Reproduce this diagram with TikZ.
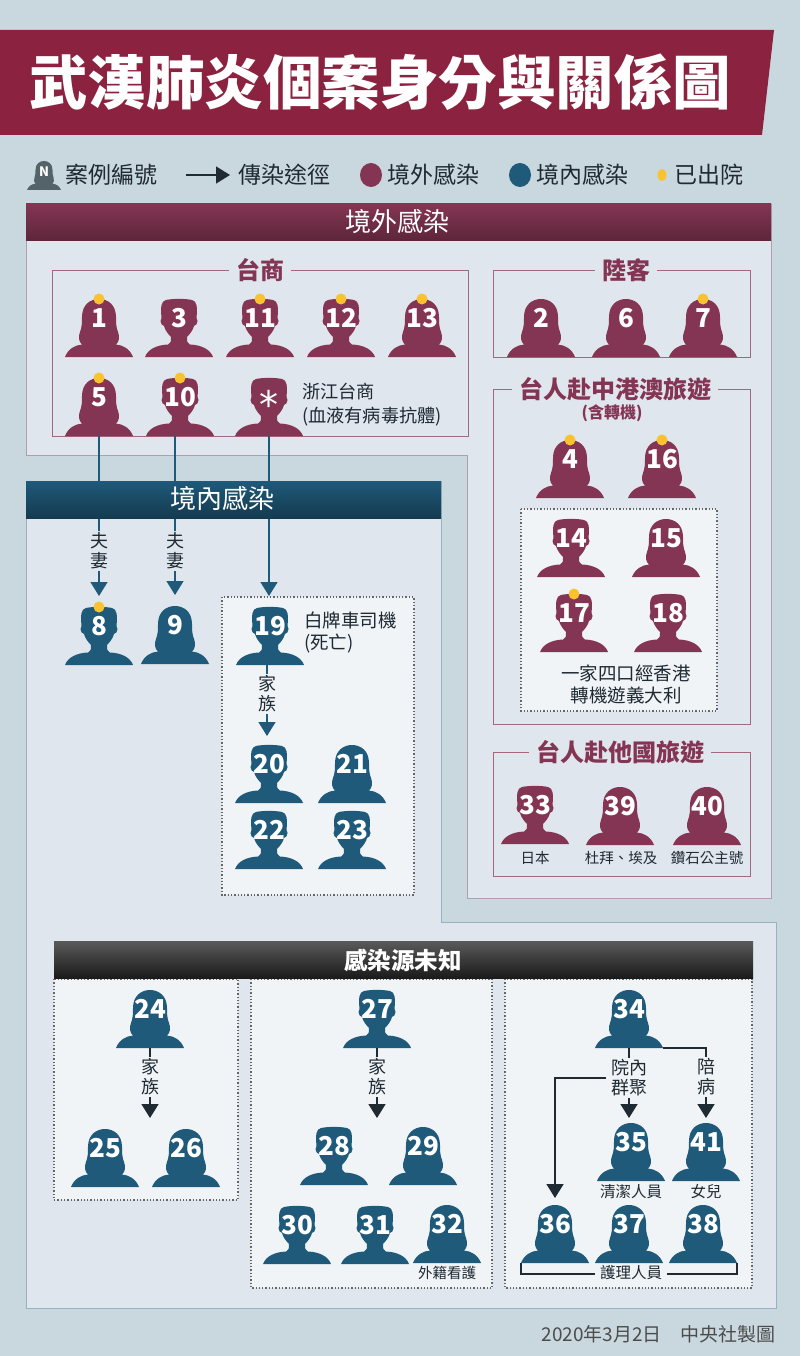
\documentclass[tikz,border=0pt]{standalone}
\usepackage{fontspec}
\setmainfont{Noto Sans CJK TC}
\newfontfamily\starfont{DejaVu Sans}
\usetikzlibrary{arrows.meta,shapes.geometric}
\definecolor{maroon}{HTML}{843553}
\definecolor{navy}{HTML}{1F5A7A}
\definecolor{band}{HTML}{8B2340}
\definecolor{panel}{HTML}{E0E6ED}
\definecolor{page}{HTML}{C9D7DF}
\definecolor{inbox}{HTML}{F0F4F7}
\definecolor{ink}{HTML}{1F2A33}
\definecolor{gold}{HTML}{F9C22E}
\newcommand{\sz}[2]{\fontsize{#1}{#2}\selectfont}
% silhouettes, origin at the middle of the base
\newcommand{\manpath}{(-34,0) .. controls (-31,-8) and (-22,-12) .. (-11,-12.5) .. controls (-8,-13) and (-8,-16) .. (-8,-20)
  .. controls (-11,-23) and (-14,-27) .. (-15,-31) .. controls (-17,-32) and (-18.5,-33) .. (-18.5,-36) .. controls (-18.5,-37) and (-18,-38) .. (-17.5,-39)
  .. controls (-18.5,-50) and (-18,-56) .. (-13,-57) .. controls (-6,-58.5) and (6,-58.5) .. (13,-57)
  .. controls (18,-56) and (18.5,-50) .. (17.5,-39) .. controls (18,-38) and (18.5,-37) .. (18.5,-36) .. controls (18.5,-33) and (17,-32) .. (15,-31)
  .. controls (14,-27) and (11,-23) .. (8,-20) .. controls (8,-16) and (8,-13) .. (11,-12.5)
  .. controls (22,-12) and (31,-8) .. (34,0) -- cycle}
\newcommand{\womanpath}{(-34,0) .. controls (-31,-8) and (-24,-12) .. (-17,-12.5) .. controls (-20,-15) and (-21,-20) .. (-19,-25)
  .. controls (-17,-30) and (-17,-35) .. (-17,-40) .. controls (-17,-52) and (-9,-58) .. (0,-58)
  .. controls (9,-58) and (17,-52) .. (17,-40) .. controls (17,-35) and (17,-30) .. (19,-25)
  .. controls (21,-20) and (20,-15) .. (17,-12.5) .. controls (24,-12) and (31,-8) .. (34,0) -- cycle}
% colour, position, name and number of one case
\newcommand{\man}[4]{\fill[#1,shift={#2}] \manpath; \node[person] (#3) at #2 {#4};}
\newcommand{\woman}[4]{\fill[#1,shift={#2}] \womanpath; \node[person] (#3) at #2 {#4};}
\tikzset{
    %Define standard arrow tip
    >={Triangle[width=17pt,length=14pt]},
    %Define style for people
    person/.style={
           rectangle,
           anchor=south,
           inner sep=0pt,
           outer sep=0pt,
           minimum width=68pt,
           minimum height=58pt,
           text height=28pt,
           text depth=30pt,
           text=white,
           font=\bfseries\sz{26}{26}},
    dot/.style={
           circle,
           fill=gold,
           inner sep=0pt,
           minimum size=11pt},
    % Define style for boxes
    groupbox/.style={draw=maroon!75!white, line width=.8pt},
    dotbox/.style={fill=inbox, draw=black!60!white, line width=1.3pt, dotted},
    grouptitle/.style={fill=panel, text=maroon, inner xsep=7pt, inner ysep=1pt, font=\bfseries\sz{24}{26}},
    headbar/.style={
           shade,
           minimum height=37pt,
           inner sep=0pt},
    headtext/.style={text=white, inner sep=0pt, font=\sz{26}{28}},
    % Define arrow styles
    flow/.style={->, navy, line width=1.4pt, shorten >=11pt},
    link/.style={->, ink, line width=1.6pt, shorten >=5pt},
    rel/.style={fill=panel, text=ink, align=center, inner sep=2pt, font=\sz{18}{20}},
    relin/.style={rel, fill=inbox},
    note/.style={text=ink, inner sep=0pt, font=\sz{18.5}{22}},
    small/.style={text=ink, inner sep=0pt, font=\sz{14.5}{16}},
    under/.style={small, font=\sz{15.5}{16}},
    legend/.style={text=ink, inner sep=0pt, anchor=west, font=\sz{23}{26}}
}
\begin{document}
\begin{tikzpicture}[x=1pt,y=-1pt]
\useasboundingbox (0,0) rectangle (800,1356);
\fill[page] (0,0) rectangle (800,1356);

% panels
\filldraw[fill=panel, draw=maroon!35!page] (26,204) -- (771,204) -- (771,898) -- (467,898) -- (467,455) -- (26,455) -- cycle;
\filldraw[fill=panel, draw=navy!30!page] (26,481) -- (441,481) -- (441,922) -- (776,922) -- (776,1308) -- (26,1308) -- cycle;

% title and legend
\fill[band] (0,30) -- (774,30) -- (762,135) -- (0,135) -- cycle;
\node[text=white, font=\bfseries\sz{58.5}{60}] (title) at (380,82) {武漢肺炎個案身分與關係圖};
\fill[black!65!navy!70!white,shift={(44,190)},scale=.5] \womanpath;
\node[text=white, inner sep=0pt, font=\bfseries\sz{13}{13}] (keyN) at (44,172) {N};
\node[legend] (keytext) at (65,175) {案例編號};
\coordinate (keyfrom) at (186,175);
\coordinate (keyto) at (230,175);
\draw[->, ink, line width=1.4pt] (keyfrom) -- (keyto);
\node[legend] (keyflow) at (238,175) {傳染途徑};
\node[ellipse, fill=maroon, minimum width=22pt, minimum height=24pt, inner sep=0pt] (keyout) at (371,175) {};
\node[legend] (keyouttext) at (387,175) {境外感染};
\node[ellipse, fill=navy, minimum width=22pt, minimum height=24pt, inner sep=0pt] (keyin) at (520,175) {};
\node[legend] (keyintext) at (536,175) {境內感染};
\node[ellipse, fill=gold, minimum width=9pt, minimum height=12pt, inner sep=0pt] (keydot) at (662,175) {};
\node[legend] (keydottext) at (674,175) {已出院};

% group boxes
\draw[groupbox] (52,270) rectangle (468,436);
\draw[groupbox] (493,270) rectangle (750,357);
\draw[groupbox] (493,389) rectangle (750,724);
\draw[groupbox] (493,752) rectangle (750,876);
\node[grouptitle] (taishang) at (260,270) {台商};
\node[grouptitle] (luke) at (626,270) {陸客};
\node[grouptitle] (gangao) at (615,389) {台人赴中港澳旅遊};
\node[grouptitle] (abroad) at (620,752) {台人赴他國旅遊};
\node[text=maroon, inner sep=0pt, font=\bfseries\sz{16}{16}] (transit) at (612,413) {(含轉機)};
\draw[dotbox] (521,509) rectangle (717,711);
\draw[dotbox] (222,597) rectangle (414,895);
\draw[dotbox] (54,979) rectangle (238,1200);
\draw[dotbox] (251,979) rectangle (492,1288);
\draw[dotbox] (505,979) rectangle (752,1288);

% overseas cases
\woman{maroon}{(99,357)}{1}{1}
\man{maroon}{(179,357)}{3}{3}
\man{maroon}{(260,357)}{11}{11}
\man{maroon}{(341,357)}{12}{12}
\woman{maroon}{(422,357)}{13}{13}
\woman{maroon}{(99,436)}{5}{5}
\man{maroon}{(180,436)}{10}{10}
\man{maroon}{(269,436)}{star}{\raisebox{-12pt}{\mdseries\starfont\sz{38}{38}*}}
\woman{maroon}{(541,357)}{2}{2}
\woman{maroon}{(626,357)}{6}{6}
\woman{maroon}{(703,357)}{7}{7}
\woman{maroon}{(570,498)}{4}{4}
\woman{maroon}{(662,498)}{16}{16}
\man{maroon}{(571,577)}{14}{14}
\woman{maroon}{(666,577)}{15}{15}
\man{maroon}{(574,652)}{17}{17}
\man{maroon}{(668,652)}{18}{18}
\man{maroon}{(535,844)}{33}{33}
\woman{maroon}{(620,845)}{39}{39}
\woman{maroon}{(707,845)}{40}{40}

% local cases
\man{navy}{(99,665)}{8}{8}
\woman{navy}{(175,664)}{9}{9}
\man{navy}{(270,665)}{19}{19}
\man{navy}{(269,803)}{20}{20}
\woman{navy}{(352,803)}{21}{21}
\man{navy}{(269,869)}{22}{22}
\man{navy}{(352,869)}{23}{23}

% unknown source
\woman{navy}{(150,1048)}{24}{24}
\woman{navy}{(105,1187)}{25}{25}
\woman{navy}{(186,1187)}{26}{26}
\man{navy}{(377,1048)}{27}{27}
\man{navy}{(334,1185)}{28}{28}
\woman{navy}{(423,1185)}{29}{29}
\man{navy}{(297,1264)}{30}{30}
\man{navy}{(375,1264)}{31}{31}
\woman{navy}{(447,1263)}{32}{32}
\woman{navy}{(629,1048)}{34}{34}
\woman{navy}{(631,1181)}{35}{35}
\woman{navy}{(706,1181)}{41}{41}
\woman{navy}{(555,1263)}{36}{36}
\woman{navy}{(629,1263)}{37}{37}
\woman{navy}{(703,1263)}{38}{38}

% discharged
\node[dot] (d1) at (1.north) {};
\node[dot] (d11) at (11.north) {};
\node[dot] (d12) at (12.north) {};
\node[dot] (d13) at (13.north) {};
\node[dot] (d5) at (5.north) {};
\node[dot] (d10) at (10.north) {};
\node[dot] (d7) at (7.north) {};
\node[dot] (d4) at (4.north) {};
\node[dot] (d16) at (16.north) {};
\node[dot] (d17) at (17.north) {};
\node[dot] (d8) at (8.north) {};

% connectors
\coordinate (fam24) at (150,1118);
\coordinate (fam27) at (377,1118);
\draw[flow] (5.south) -- (8.north);
\draw[flow] (9.north |- 10.south) -- (9.north);
\draw[flow] (star.south) -- (star.south |- 19.north);
\draw[flow, shorten >=9pt] ([xshift=-2pt]20.north |- 19.south) -- ([xshift=-2pt]20.north);
\draw[link, shorten >=0pt] (24.south) -- (fam24);
\draw[link, shorten >=0pt] (27.south) -- (fam27);
\draw[link] (34.south) -- (34.south |- 35.north);
\draw[link] (34.south east) -| (41.north);
\node[rel, fill=inbox, inner xsep=5pt] (ward) at (629.5,1078) {院內\\群聚};
\draw[link, shorten >=7pt] (ward.west) -| (36.north);
\draw[ink, line width=1.4pt] (36.south west) -- ++(0,11) -| (38.south east);

% bars
\node[headbar, top color=maroon, bottom color=maroon!70!black, minimum width=745pt] (outside) at (398.5,222.5) {};
\node[headbar, top color=navy, bottom color=navy!65!black, minimum width=415pt] (inside) at (233.5,499.5) {};
\node[headbar, top color=black!65!white, bottom color=black!90!white, minimum width=699pt] (unknown) at (403.5,960) {};
\node[headtext] (outsidetext) at (397,222) {境外感染};
\node[headtext] (insidetext) at (222,499) {境內感染};
\node[headtext, font=\bfseries\sz{23.5}{26}] (unknowntext) at (403,960) {感染源未知};

% labels
\node[rel] (wife8) at (99,551) {夫\\妻};
\node[rel] (wife9) at (175,551) {夫\\妻};
\node[relin] (fam19) at (267,694) {家\\族};
\node[relin] (fam24l) at (150,1077) {家\\族};
\node[relin] (fam27l) at (377,1077) {家\\族};
\node[relin] (care) at (706,1077) {陪\\病};
\node[note, anchor=west, align=left, font=\sz{18.2}{24}] (zj) at (302,405) {浙江台商\\(血液有病毒抗體)};
\node[note, anchor=west, align=left] (driver) at (304,632) {白牌車司機\\(死亡)};
\node[note, align=center] (family) at (626,684) {一家四口經香港\\轉機遊義大利};
\node[small] (japan) at (535,858) {日本};
\node[small] (dubai) at (621,858) {杜拜、埃及};
\node[small] (cruise) at (707,858) {鑽石公主號};
\node[under] (cleaner) at (631,1192) {清潔人員};
\node[under] (daughter) at (706,1192) {女兒};
\node[small] (carer) at (447,1273) {外籍看護};
\node[under, fill=inbox, inner xsep=5pt] (nurse) at (631,1273) {護理人員};
\node[text=black!70!white, inner sep=0pt, anchor=east, font=\sz{19}{20}] (credit) at (776,1334) {2020年3月2日\quad 中央社製圖};
\end{tikzpicture}
\end{document}
